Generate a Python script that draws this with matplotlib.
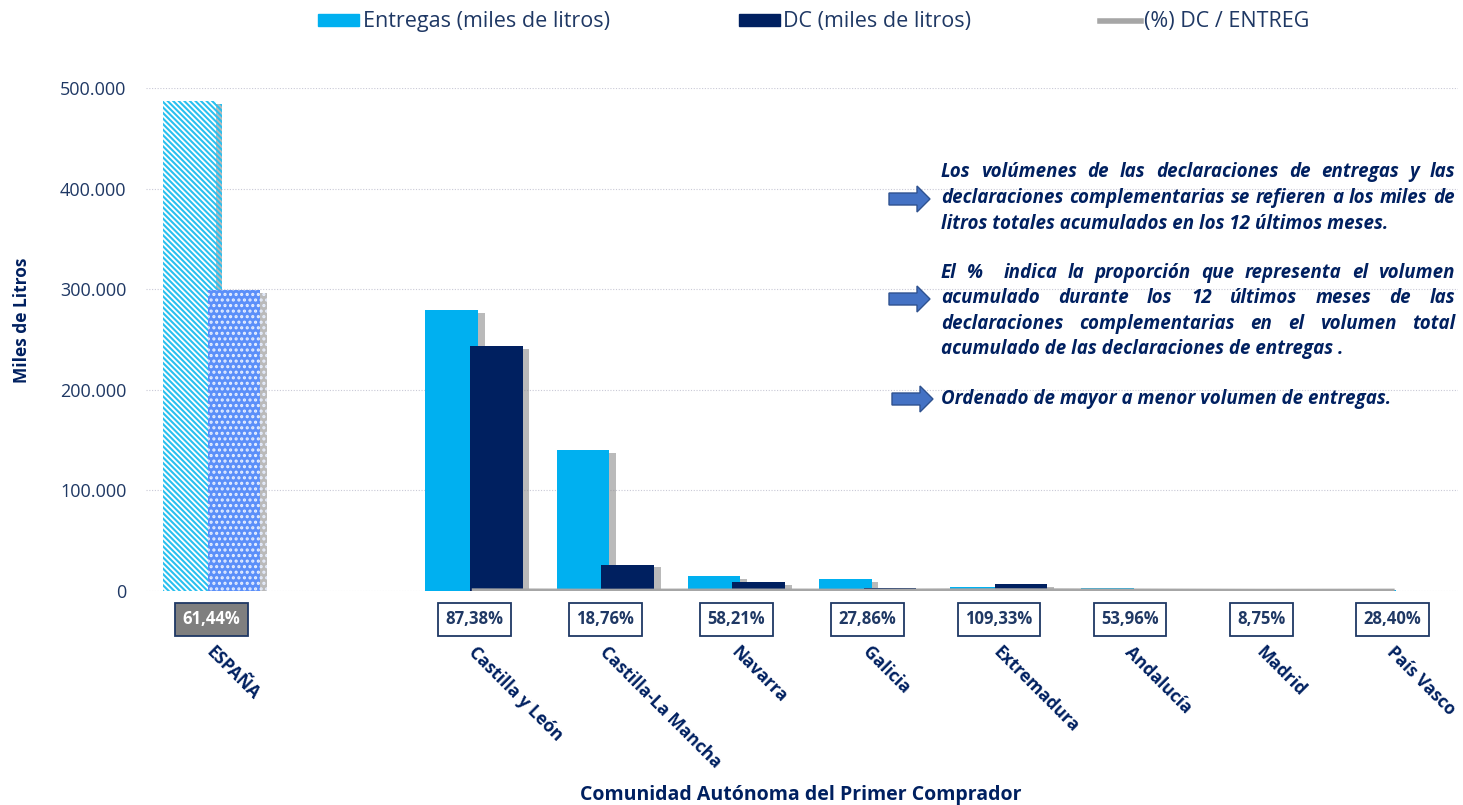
import numpy as np
import matplotlib
matplotlib.use("Agg")
import matplotlib.pyplot as plt
import matplotlib.patches as mpatches
import matplotlib.patheffects as pe
from matplotlib.lines import Line2D
from matplotlib.transforms import blended_transform_factory

plt.rcParams['font.family'] = ['Open Sans', 'DejaVu Sans']
plt.rcParams['hatch.linewidth'] = 1.5

# data (miles de litros)
regiones = ["ESPAÑA", "", "Castilla y León", "Castilla-La Mancha", "Navarra", "Galicia",
            "Extremadura", "Andalucía", "Madrid", "País Vasco"]
entregas = [487000, np.nan, 279000, 140000, 14500, 11700, 4000, 2500, 2400, 800]
dc = [299200, np.nan, 243800, 26300, 9000, 3260, 6800, 1350, 210, 230]
pct = [61.44, np.nan, 87.38, 18.76, 58.21, 27.86, 109.33, 53.96, 8.75, 28.40]

NAVY = '#002060'
TXT = '#1f3864'
W, H = 1463, 805

fig = plt.figure(figsize=(14.63, 8.05), dpi=100)
ax = fig.add_axes([146 / W, 1 - 591 / H, (1458 - 146) / W, (591 - 88) / H])

x = np.arange(len(regiones))
shadow = [pe.SimplePatchShadow(offset=(5, -2), shadow_rgbFace='#8c8c8c', alpha=0.6), pe.Normal()]

b1 = ax.bar(x - 0.17, entregas, width=0.4, color='#00b0f0', zorder=3)
b2 = ax.bar(x + 0.17, dc, width=0.4, color=NAVY, zorder=4)
for p in list(b1) + list(b2):
    p.set_path_effects(shadow)

# ESPAÑA bars with pattern fill
b1[0].set_facecolor('white')
b1[0].set_edgecolor('#29c0ef')
b1[0].set_hatch('\\' * 6)
b1[0].set_linewidth(0)
b2[0].set_facecolor('#5b8ff9')
b2[0].set_edgecolor('#e6eeff')
b2[0].set_hatch('...')
b2[0].set_linewidth(0)

ax.set_xlim(-0.5, len(regiones) - 0.5)
ax.set_ylim(0, 500000)
ax.set_yticks(np.arange(0, 500001, 100000))
ax.set_yticklabels(['0', '100.000', '200.000', '300.000', '400.000', '500.000'])
ax.tick_params(axis='y', length=0, pad=14, labelsize=13, labelcolor=TXT)
ax.set_xticks([])
ax.grid(axis='y', color='#c9c9d6', linestyle=(0, (1, 1.5)), linewidth=0.8, zorder=0)
for s in ax.spines.values():
    s.set_visible(False)

# percentage line on secondary axis
ax2 = ax.twinx()
ax2.plot(x, pct, color='#a6a6a6', linewidth=3.2,
         path_effects=[pe.SimpleLineShadow(offset=(2, -2), alpha=0.3), pe.Normal()])
ax2.set_ylim(0, 100000)
ax2.set_xlim(ax.get_xlim())
ax2.axis('off')

tr = blended_transform_factory(ax.transData, ax.transAxes)
for i, (name, v) in enumerate(zip(regiones, pct)):
    if not name:
        continue
    lab = f"{v:.2f}".replace('.', ',') + '%'
    if i == 0:
        fc, tc = '#7f7f7f', 'white'
    else:
        fc, tc = 'white', TXT
    ax.text(i, -0.056, lab, transform=tr, ha='center', va='center', fontsize=12,
            fontweight='bold', color=tc,
            bbox=dict(boxstyle='square,pad=0.45', facecolor=fc, edgecolor='#1f3864', linewidth=1.3))
    ax.text(i + 0.03, -0.104, name, transform=tr, ha='left', va='top', rotation=-45,
            rotation_mode='anchor', fontsize=12.5, fontweight='bold', color=NAVY)

fig.text(22 / W, 1 - 320 / H, 'Miles de Litros', rotation=90, ha='center', va='center',
         fontsize=12.5, fontweight='bold', color=NAVY)
fig.text(801 / W, 1 - 795 / H, 'Comunidad Autónoma del Primer Comprador', ha='center',
         va='center', fontsize=14, fontweight='bold', color=NAVY)

handles = [mpatches.Patch(color='#00b0f0'), mpatches.Patch(color=NAVY),
           Line2D([], [], color='#a6a6a6', linewidth=4)]
fig.legend(handles, ['Entregas (miles de litros)', 'DC (miles de litros)', '(%) DC / ENTREG'],
           loc='center', bbox_to_anchor=(814 / W, 1 - 22 / H), ncol=3, frameon=False,
           fontsize=15.5, handlelength=1.9, handleheight=0.5, handletextpad=0.15,
           columnspacing=6.0, labelcolor=TXT)

# explanatory notes with justified lines
renderer = fig.canvas.get_renderer()
style = dict(fontsize=13.5, fontweight='bold', fontstyle='italic', color=NAVY, va='center')
x0, x1 = 941, 1455
notes = [
    ("Los volúmenes de las declaraciones de entregas y las", 172, True),
    ("declaraciones complementarias se refieren a los miles de", 198, True),
    ("litros totales acumulados en los 12 últimos meses.", 224, False),
    ("El %  indica la proporción que representa el volumen", 273, True),
    ("acumulado durante los 12 últimos meses de las", 298, True),
    ("declaraciones complementarias en el volumen total", 324, True),
    ("acumulado de las declaraciones de entregas .", 349, False),
    ("Ordenado de mayor a menor volumen de entregas.", 399, False),
]
for line, yy, just in notes:
    if not just:
        fig.text(x0 / W, 1 - yy / H, line, **style)
        continue
    words = line.split(' ')
    arts = [fig.text(0, 1 - yy / H, w, **style) for w in words]
    widths = [a.get_window_extent(renderer).width if w else 0 for a, w in zip(arts, words)]
    gap = (x1 - x0 - sum(widths)) / (len(words) - 1)
    xx = x0
    for a, wd in zip(arts, widths):
        a.set_x(xx / W)
        xx += wd + gap

# block arrows
def arrow(xa, yc):
    pts = [(xa, yc - 6), (xa + 28, yc - 6), (xa + 28, yc - 13), (xa + 41, yc),
           (xa + 28, yc + 13), (xa + 28, yc + 6), (xa, yc + 6)]
    pts = [(px / W, 1 - py / H) for px, py in pts]
    fig.patches.append(mpatches.Polygon(pts, closed=True, transform=fig.transFigure,
                                        facecolor='#4472c4', edgecolor='#2f528f', linewidth=1))

arrow(889, 199)
arrow(889, 299)
arrow(892, 399)

fig.savefig('out.png', dpi=100)
